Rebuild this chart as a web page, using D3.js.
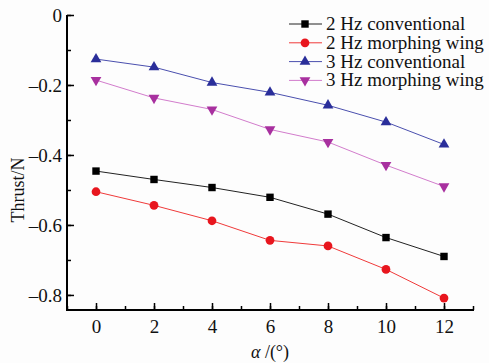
<!DOCTYPE html>
<html>
<head>
<meta charset="utf-8">
<script src="https://cdn.jsdelivr.net/npm/d3@7"></script>
<style>
  body { margin: 0; background: #fdfdfd; }
  svg text { font-family: "Times New Roman", "Liberation Serif", "DejaVu Serif", serif !important; }
</style>
</head>
<body>
<svg width="489" height="363"></svg>
<script>
const width = 489
const height = 363

const marginTop = 15
const marginLeft = 67
const marginRight = 16
const marginBottom = 53

const angles = [0, 2, 4, 6, 8, 10, 12]
const conv2 = [-0.446, -0.470, -0.493, -0.521, -0.569, -0.636, -0.690]
const morph2 = [-0.505, -0.544, -0.588, -0.644, -0.660, -0.727, -0.809]
const conv3 = [-0.126, -0.149, -0.193, -0.221, -0.258, -0.306, -0.370]
const morph3 = [-0.186, -0.237, -0.270, -0.327, -0.363, -0.429, -0.490]

const seriesNames = ["2 Hz conventional", "2 Hz morphing wing", "3 Hz conventional", "3 Hz morphing wing"]
const xTicks = [0, 2, 4, 6, 8, 10, 12]
const yTicks = [0, -0.2, -0.4, -0.6, -0.8]

const series = [
  { name: seriesNames[0], values: conv2, line: "#222", fill: "#000", shape: d3.symbolSquare, size: 55, rot: 0 },
  { name: seriesNames[1], values: morph2, line: "#f03a3a", fill: "#e8161e", shape: d3.symbolCircle, size: 60, rot: 0 },
  { name: seriesNames[2], values: conv3, line: "#4a4fae", fill: "#2a2e9a", shape: d3.symbolTriangle, size: 50, rot: 0 },
  { name: seriesNames[3], values: morph3, line: "#d27ccc", fill: "#a8309f", shape: d3.symbolTriangle, size: 50, rot: 180 }
]

const svg = d3.select("svg")

const x = d3.scaleLinear()
  .domain([-1, 13])
  .range([marginLeft, width - marginRight])

const y = d3.scaleLinear()
  .domain([-0.843, 0])
  .range([height - marginBottom, marginTop])

const fmt = d => d === 0 ? "0" : d.toFixed(1).replace("-", "\u2013")

// minor ticks first, then the major ones on top
svg.append("g")
  .attr("transform", `translate(0, ${y.range()[0]})`)
  .call(d3.axisBottom(x).tickValues(d3.range(-1, 14, 1)).tickSizeInner(-4).tickSizeOuter(0).tickFormat(""))
  .call(g => g.select(".domain").remove())
  .call(g => g.selectAll("line").attr("stroke-width", 1.5))

svg.append("g")
  .attr("transform", `translate(${x.range()[0]}, 0)`)
  .call(d3.axisLeft(y).tickValues(d3.range(-0.8, 0.01, 0.1)).tickSizeInner(-4).tickSizeOuter(0).tickFormat(""))
  .call(g => g.select(".domain").remove())
  .call(g => g.selectAll("line").attr("stroke-width", 1.5))

svg.append("g")
  .attr("transform", `translate(0, ${y.range()[0]})`)
  .call(d3.axisBottom(x).tickValues(xTicks).tickSizeInner(-7).tickSizeOuter(0).tickPadding(10))
  .call(g => g.select(".domain").attr("stroke-width", 2).attr("d", `M${x.range()[0] - 1},0H${x.range()[1] + 1}`))
  .call(g => g.selectAll("line").attr("stroke-width", 1.5))
  .call(g => g.selectAll("text").attr("font-size", 19).attr("fill", "#111"))

svg.append("g")
  .attr("transform", `translate(${x.range()[0]}, 0)`)
  .call(d3.axisLeft(y).tickValues(yTicks).tickFormat(fmt).tickSizeInner(-7).tickSizeOuter(0).tickPadding(5))
  .call(g => g.select(".domain").attr("stroke-width", 2).attr("d", `M0,${y.range()[0] + 1}V${y.range()[1]}`))
  .call(g => g.selectAll("line").attr("stroke-width", 1.5))
  .call(g => g.selectAll("text").attr("font-size", 19).attr("fill", "#111"))

// axis titles
svg.append("text")
  .attr("x", 270)
  .attr("y", 358)
  .attr("text-anchor", "middle")
  .attr("font-size", 18)
  .attr("fill", "#111")
  .html('<tspan font-style="italic">\u03b1</tspan> /(\u00b0)')

svg.append("text")
  .attr("transform", "translate(24, 190) rotate(-90)")
  .attr("text-anchor", "middle")
  .attr("font-size", 18)
  .attr("fill", "#111")
  .text("Thrust/N")

const line = d3.line()
  .x((d, i) => x(angles[i]))
  .y(d => y(d))

series.forEach(s => {
  svg.append("path")
    .datum(s.values)
    .attr("fill", "none")
    .attr("stroke", s.line)
    .attr("stroke-width", 1)
    .attr("d", line)

  svg.selectAll(null)
    .data(s.values)
    .enter()
    .append("path")
    .attr("d", d3.symbol(s.shape, s.size))
    .attr("transform", (d, i) => `translate(${x(angles[i])}, ${y(d)}) rotate(${s.rot})`)
    .attr("fill", s.fill)
})

// legend
const legend = svg.append("g")
  .attr("transform", "translate(289, 24)")

series.forEach((s, i) => {
  const row = legend.append("g").attr("transform", `translate(0, ${i * 18.8})`)
  row.append("line")
    .attr("x1", 0).attr("x2", 33)
    .attr("stroke", s.line)
    .attr("stroke-width", 1)
  row.append("path")
    .attr("d", d3.symbol(s.shape, s.size))
    .attr("transform", `translate(16, 0) rotate(${s.rot})`)
    .attr("fill", s.fill)
  row.append("text")
    .attr("x", 37)
    .attr("y", 6)
    .attr("font-size", 19)
    .attr("fill", "#111")
    .text(s.name)
})
</script>
</body>
</html>
